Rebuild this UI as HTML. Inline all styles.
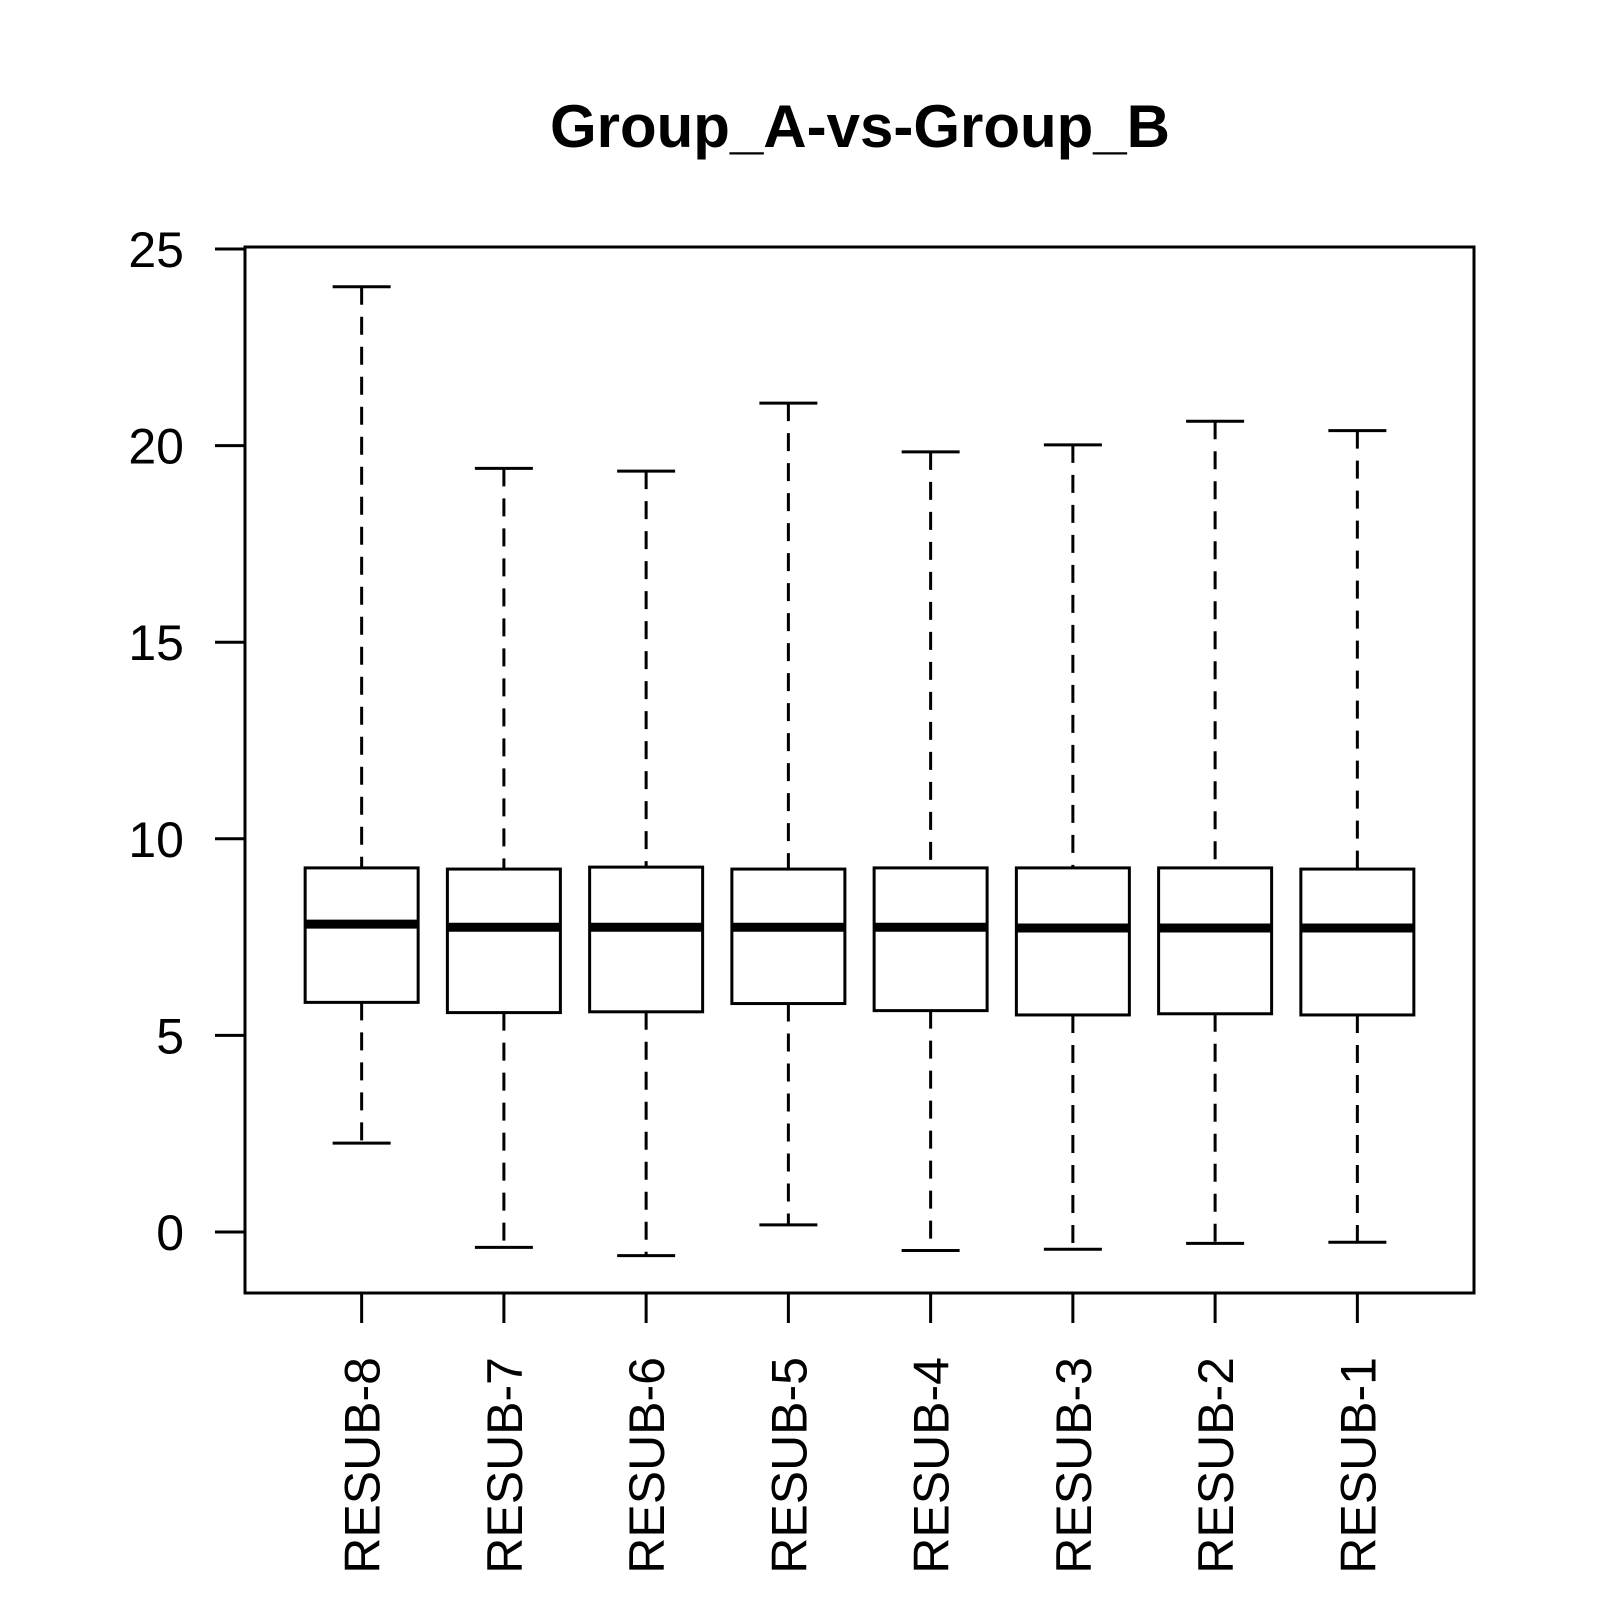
<!DOCTYPE html>
<html><head><meta charset="utf-8"><style>html,body{margin:0;padding:0;background:#fff}svg{display:block}</style></head>
<body>
<svg id="chart" width="1600" height="1600" viewBox="0 0 1600 1600" xmlns="http://www.w3.org/2000/svg" font-family="'Liberation Sans', Arial, sans-serif">
<rect width="1600" height="1600" fill="#fff"/>
<text x="860" y="147" text-anchor="middle" font-size="60" font-weight="bold">Group_A-vs-Group_B</text>
<rect x="245" y="247" width="1229" height="1046" fill="none" stroke="#000" stroke-width="3"/>
<g id="yaxis"></g>
<g id="xaxis"></g>
<g id="boxes"></g>
</svg>
<script>
const categories = ["RESUB-8","RESUB-7","RESUB-6","RESUB-5","RESUB-4","RESUB-3","RESUB-2","RESUB-1"];
const whiskerLow = [2.26,-0.39,-0.60,0.18,-0.47,-0.44,-0.29,-0.26];
const q1Values = [5.84,5.58,5.60,5.81,5.63,5.52,5.55,5.52];
const medianValues = [7.83,7.75,7.75,7.75,7.75,7.73,7.73,7.73];
const q3Values = [9.26,9.23,9.28,9.23,9.26,9.26,9.26,9.23];
const whiskerHigh = [24.04,19.42,19.35,21.08,19.84,20.02,20.62,20.38];
const yTicks = [0,5,10,15,20,25];

const NS = "http://www.w3.org/2000/svg";
function yScale(v){ return 1232 - 39.32*v; }
function xScale(i){ return 245 + (i + 1 - 0.18) * (1229/8.64); }
function mk(tag, attrs, parent){
  const e = document.createElementNS(NS, tag);
  for (const k in attrs) e.setAttribute(k, attrs[k]);
  parent.appendChild(e);
  return e;
}
const ya = document.getElementById('yaxis');
const xa = document.getElementById('xaxis');
const bx = document.getElementById('boxes');
mk('line',{x1:245,x2:245,y1:yScale(0),y2:yScale(25),stroke:'#000','stroke-width':3},ya);
yTicks.forEach(t=>{
  const y = yScale(t);
  const l = mk('line',{x1:215,x2:245,y1:y,y2:y,stroke:'#000','stroke-width':3},ya);
  
  
  const tx = mk('text',{x:184,y:y+18,'text-anchor':'end','font-size':50},ya);
  tx.textContent = t;
  
  
});
categories.forEach((c,i)=>{
  const x = xScale(i);
  const t = mk('line',{x1:x,x2:x,y1:1293,y2:1323,stroke:'#000','stroke-width':3},xa);
  
  
  const tx = mk('text',{x:0,y:0,'text-anchor':'end','font-size':50,transform:`translate(${x+18},1357) rotate(-90)`},xa);
  tx.textContent = c;
  
  

  const g = mk('g',{},bx);
  
  
  const hw = 56.5, cw = 29;
  mk('line',{x1:x,x2:x,y1:yScale(whiskerHigh[i]),y2:yScale(q3Values[i]),stroke:'#000','stroke-width':3,'stroke-dasharray':'18,12'},g);
  mk('line',{x1:x,x2:x,y1:yScale(q1Values[i]),y2:yScale(whiskerLow[i]),stroke:'#000','stroke-width':3,'stroke-dasharray':'18,12'},g);
  mk('line',{x1:x-cw,x2:x+cw,y1:yScale(whiskerHigh[i]),y2:yScale(whiskerHigh[i]),stroke:'#000','stroke-width':3},g);
  mk('line',{x1:x-cw,x2:x+cw,y1:yScale(whiskerLow[i]),y2:yScale(whiskerLow[i]),stroke:'#000','stroke-width':3},g);
  mk('rect',{x:x-hw,y:yScale(q3Values[i]),width:2*hw,height:yScale(q1Values[i])-yScale(q3Values[i]),fill:'#fff',stroke:'#000','stroke-width':3},g);
  mk('line',{x1:x-hw,x2:x+hw,y1:yScale(medianValues[i]),y2:yScale(medianValues[i]),stroke:'#000','stroke-width':9},g);
});
</script>
</body></html>
